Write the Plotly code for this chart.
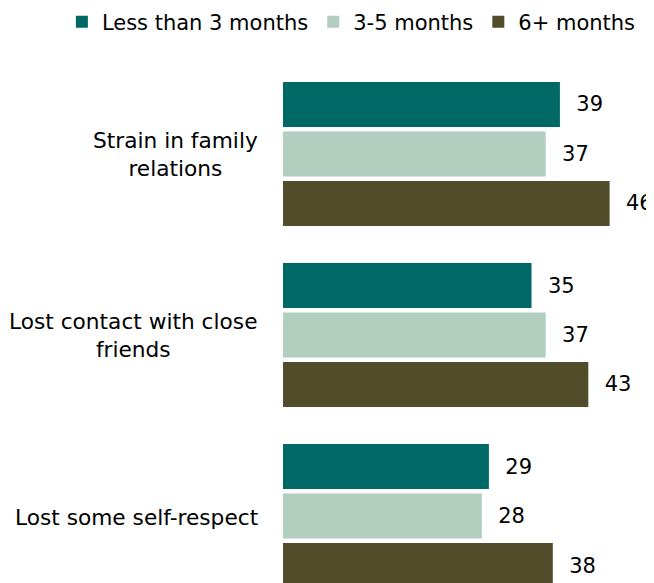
import plotly.graph_objects as go

categories = ["Strain in family<br>relations", "Lost contact with close<br>friends", "Lost some self-respect"]
series_names = ["Less than 3 months", "3-5 months", "6+ months"]
less_than_3 = [39, 35, 29]
three_to_five = [37, 37, 28]
six_plus = [46, 43, 38]
colors = ["#006865", "#B2CEBF", "#514C2A"]

FONT = "DejaVu Sans"
fig = go.Figure()
for name, vals, col in zip(series_names, [less_than_3, three_to_five, six_plus], colors):
    fig.add_trace(go.Bar(
        y=categories, x=vals, name=name, orientation="h",
        marker=dict(color=col, line=dict(width=0)),
        text=vals, texttemplate="\u00a0\u00a0%{x}", textposition="outside",
        textfont=dict(family=FONT, size=21, color="#000000"),
        cliponaxis=False,
    ))

for c in categories:
    fig.add_annotation(x=0, xref="paper", y=c, yref="y", text=c, showarrow=False,
                       xanchor="right", xshift=-23, yshift=-1, align="center",
                       font=dict(family=FONT, size=21.7, color="#000000"))

fig.update_layout(
    width=646, height=575,
    margin=dict(l=275, r=0, t=52, b=0, pad=0, autoexpand=False),
    barmode="group", bargap=0.18, bargroupgap=0.09,
    plot_bgcolor="white", paper_bgcolor="white",
    font=dict(family=FONT, size=21, color="#000000"),
    showlegend=True,
    legend=dict(orientation="h", x=-0.596, xanchor="left", y=1.0727, yanchor="middle",
                font=dict(family=FONT, size=21, color="#000000"), traceorder="normal",
                bgcolor="rgba(0,0,0,0)"),
    xaxis=dict(range=[0, 52.25], showgrid=False, zeroline=False, showticklabels=False,
               showline=False, ticks=""),
    yaxis=dict(range=[2.370, -0.519], showgrid=False, zeroline=False, showticklabels=False,
               showline=False, ticks="", type="category"),
)
fig.write_html("out.html")
